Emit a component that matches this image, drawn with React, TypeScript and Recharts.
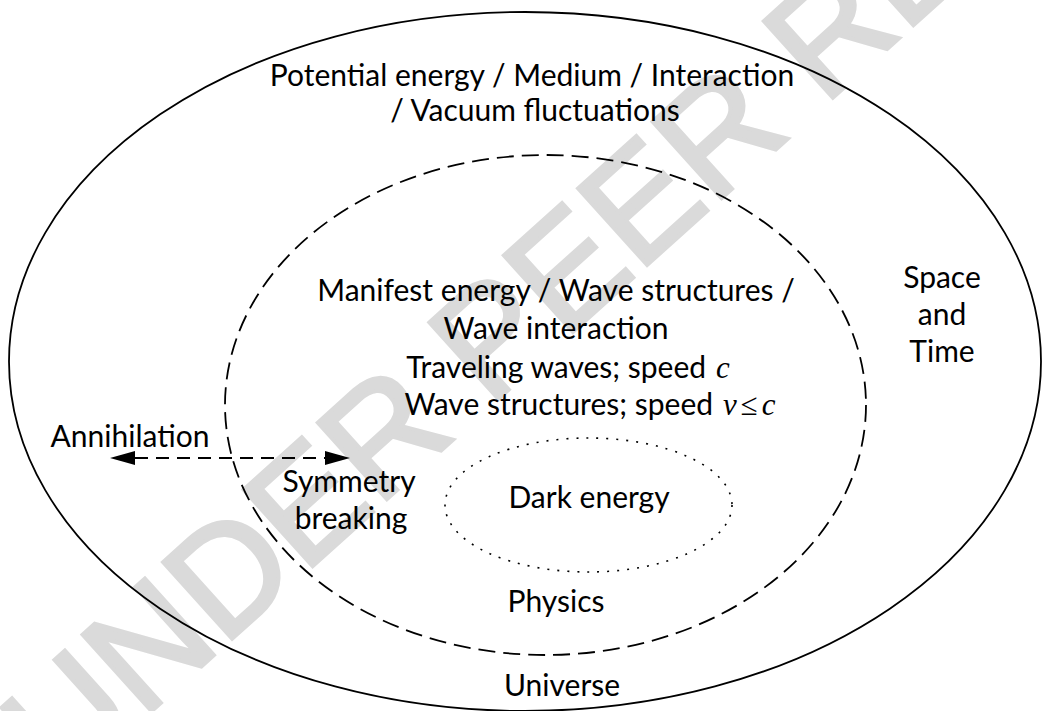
import React from 'react';
import { ComposedChart, XAxis, YAxis, ReferenceArea, ReferenceLine, ReferenceDot, Scatter } from 'recharts';

const W = 1042;
const H = 711;

// nested regions (left, right, top, bottom)
const regionNames = ['Universe', 'Physics', 'Dark energy'];
const regionLeft = [9, 225, 445];
const regionRight = [1041, 866, 732];
const regionTop = [12, 155, 438];
const regionBottom = [711, 655, 572];
const regionLine = ['solid', 'dashed', 'dotted'];

// text labels: centre x, baseline y
const labelText = [
  'Potential energy / Medium / Interaction',
  '/ Vacuum fluctuations',
  'Manifest energy / Wave structures /',
  'Wave interaction',
  'Traveling waves; speed',
  'Wave structures; speed',
  'Space',
  'and',
  'Time',
  'Annihilation',
  'Symmetry',
  'breaking',
  'Dark energy',
  'Physics',
  'Universe',
];
const labelMath = ['', '', '', '', 'c', 'v≤c', '', '', '', '', '', '', '', '', ''];
const labelX = [532, 535, 556, 556, 568, 590, 942, 942, 942, 130, 349, 351, 589, 556, 562];
const labelY = [86, 121, 301, 339, 378, 415, 288, 325, 362, 447, 492, 529, 508, 612, 696];

// double arrow: annihilation <-> symmetry breaking
const arrowX = [110, 350];
const arrowY = [458, 458];

// watermark
const watermarkText = 'UNDER PEER REVIEW';
const watermarkX = 62;
const watermarkY = 792;
const watermarkAngle = -42;

const dashFor: Record<string, string | undefined> = {
  solid: undefined,
  dashed: '17 8',
  dotted: '2 8',
};

const labelData = labelText.map((text, i) => ({ x: labelX[i], y: labelY[i], text, math: labelMath[i] }));

const FONT = 'Lato, "Open Sans", sans-serif';

const renderMath = (math: string) => {
  if (!math) return null;
  return math.split('').map((ch, i) => (
    <tspan
      key={i}
      fontFamily='"Liberation Serif", "DejaVu Serif", serif'
      fontStyle={ch === '≤' ? 'normal' : 'italic'}
      dx={i === 0 ? 10 : 4}
      fontSize={31}
    >
      {ch}
    </tspan>
  ));
};

const LabelShape = (props: any) => {
  const { cx, cy, payload } = props;
  return (
    <text x={cx} y={cy} textAnchor="middle" fontFamily={FONT} fontSize={30} fill="#000">
      {payload.text}
      {renderMath(payload.math)}
    </text>
  );
};

const Watermark = (props: any) => {
  const { cx, cy } = props;
  return (
    <text
      x={cx}
      y={cy}
      transform={`rotate(${watermarkAngle} ${cx} ${cy})`}
      fontFamily='"Liberation Sans", Arial, sans-serif'
      fontSize={150}
      fill="#dadada"
      stroke="#dadada"
      strokeWidth={4}
    >
      {watermarkText}
    </text>
  );
};

const ellipseShape = (kind: string) => (props: any) => {
  const { x, y, width, height } = props;
  return (
    <ellipse
      cx={x + width / 2}
      cy={y + height / 2}
      rx={Math.abs(width) / 2}
      ry={Math.abs(height) / 2}
      fill="none"
      stroke="#000"
      strokeWidth={kind === 'dotted' ? 1.6 : 1.8}
      strokeDasharray={dashFor[kind]}
    />
  );
};

const ArrowShape = (props: any) => {
  const { x1, y1, x2, y2 } = props;
  const head = 25;
  const half = 7;
  return (
    <g>
      <line x1={x1 + head} y1={y1} x2={x2 - head} y2={y2} stroke="#000" strokeWidth={2} strokeDasharray="13 8" />
      <polygon points={`${x1},${y1} ${x1 + head},${y1 - half} ${x1 + head},${y1 + half}`} fill="#000" />
      <polygon points={`${x2},${y2} ${x2 - head},${y2 - half} ${x2 - head},${y2 + half}`} fill="#000" />
    </g>
  );
};

export default function App() {
  return (
    <div style={{ position: 'absolute', left: 0, top: 0, width: W, height: H, background: '#fff' }}>
      <ComposedChart width={W} height={H} margin={{ top: 0, right: 0, bottom: 0, left: 0 }}>
        <XAxis type="number" dataKey="x" domain={[0, W]} hide allowDataOverflow />
        <YAxis type="number" dataKey="y" domain={[0, H]} reversed hide allowDataOverflow />
        <ReferenceDot x={watermarkX} y={watermarkY} ifOverflow="visible" shape={Watermark} zIndex={-50} />
        {regionNames.map((name, i) => (
          <ReferenceArea
            key={name}
            x1={regionLeft[i]}
            x2={regionRight[i]}
            y1={regionTop[i]}
            y2={regionBottom[i]}
            ifOverflow="visible"
            shape={ellipseShape(regionLine[i])}
          />
        ))}
        <ReferenceLine
          segment={[
            { x: arrowX[0], y: arrowY[0] },
            { x: arrowX[1], y: arrowY[1] },
          ]}
          ifOverflow="visible"
          shape={ArrowShape}
        />
        <Scatter data={labelData} dataKey="y" shape={LabelShape} isAnimationActive={false} />
      </ComposedChart>
    </div>
  );
}
